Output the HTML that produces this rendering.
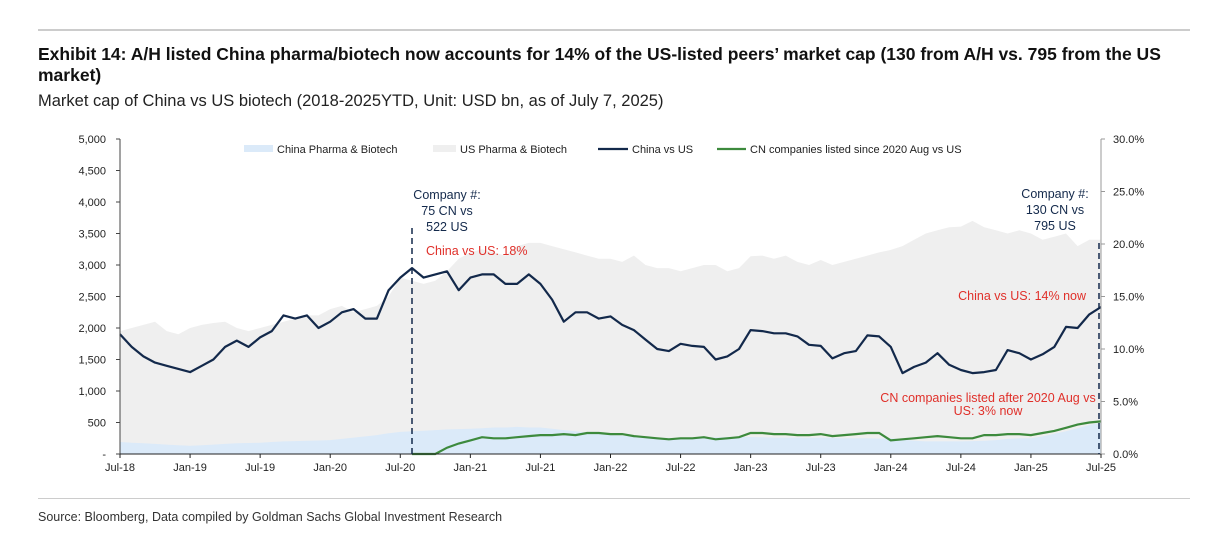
<!DOCTYPE html>
<html><head><meta charset="utf-8"><style>
body{margin:0;width:1214px;height:534px;background:#fff;overflow:hidden;font-family:"Liberation Sans",sans-serif;position:relative}
.n{font-family:"Liberation Sans Narrow","Liberation Sans",sans-serif}
#title{position:absolute;left:38px;top:44px;width:1140px;font-weight:bold;font-size:17.5px;line-height:21px;color:#111}
#sub{position:absolute;left:38px;top:92px;font-size:16.5px;color:#222}
#src{position:absolute;left:38px;top:510px;font-size:12.5px;color:#333}
.hr{position:absolute;left:38px;width:1152px;height:2px;background:#ccc}
svg{position:absolute;left:0;top:0}
</style></head><body>
<div class="hr" style="top:29px"></div>
<div id="title" class="n">Exhibit 14: A/H listed China pharma/biotech now accounts for 14% of the US-listed peers’ market cap (130 from A/H vs. 795 from the US market)</div>
<div id="sub" class="n">Market cap of China vs US biotech (2018-2025YTD, Unit: USD bn, as of July 7, 2025)</div>
<div class="hr" style="top:498px;height:1px"></div>
<div id="src" class="n">Source: Bloomberg, Data compiled by Goldman Sachs Global Investment Research</div>
<svg id="chart" width="1214" height="534"></svg>
<script>
// monthly data Jul-18 .. Jul-25
const xLabels=["Jul-18","Jan-19","Jul-19","Jan-20","Jul-20","Jan-21","Jul-21","Jan-22","Jul-22","Jan-23","Jul-23","Jan-24","Jul-24","Jan-25","Jul-25"];
const leftTicks=[0,500,1000,1500,2000,2500,3000,3500,4000,4500,5000];
const rightTicks=[0,5,10,15,20,25,30];
const usCap=[1950,2000,2050,2100,1950,1900,2000,2050,2080,2100,2000,1950,2000,2050,2100,2150,2200,2200,2300,2350,2250,2300,2350,2500,2800,2750,2700,2750,2900,3100,3200,3250,3200,3150,3300,3350,3350,3300,3250,3200,3150,3100,3100,3050,3150,3000,2950,2950,2900,2950,3000,3000,2900,2950,3140,3150,3100,3150,3050,3000,3080,3000,3050,3100,3150,3200,3240,3300,3400,3500,3550,3600,3610,3700,3600,3550,3500,3550,3500,3400,3450,3500,3300,3400,3400];
const cnCap=[190,180,170,160,150,140,130,140,150,160,170,175,180,190,200,205,210,215,220,240,260,280,300,330,350,360,370,380,390,395,400,410,420,420,430,420,420,400,380,360,340,320,300,290,280,270,260,255,250,255,260,265,270,270,270,265,260,260,260,255,260,255,250,250,250,245,250,230,210,200,200,200,200,205,210,220,240,250,250,280,320,360,410,460,500];
const chinaVsUs=[11.4,10.2,9.3,8.7,8.4,8.1,7.8,8.4,9.0,10.2,10.8,10.2,11.1,11.7,13.2,12.9,13.2,12.0,12.6,13.5,13.8,12.9,12.9,15.6,16.8,17.7,16.8,17.1,17.4,15.6,16.8,17.1,17.1,16.2,16.2,17.1,16.2,14.7,12.6,13.5,13.5,12.9,13.1,12.3,11.8,10.9,10.0,9.8,10.5,10.3,10.2,9.0,9.3,10.0,11.8,11.7,11.5,11.5,11.2,10.4,10.3,9.1,9.6,9.8,11.3,11.2,10.2,7.7,8.3,8.7,9.6,8.5,8.0,7.7,7.8,8.0,9.9,9.6,9.0,9.5,10.2,12.1,12.0,13.3,14.0];
const cnNew=[null,null,null,null,null,null,null,null,null,null,null,null,null,null,null,null,null,null,null,null,null,null,null,null,null,0,0,0,0.6,1.0,1.3,1.6,1.5,1.5,1.6,1.7,1.8,1.8,1.9,1.8,2.0,2.0,1.9,1.9,1.7,1.6,1.5,1.4,1.5,1.5,1.6,1.4,1.5,1.6,2.0,2.0,1.9,1.9,1.8,1.8,1.9,1.7,1.8,1.9,2.0,2.0,1.3,1.4,1.5,1.6,1.7,1.6,1.5,1.5,1.8,1.8,1.9,1.9,1.8,2.0,2.2,2.5,2.8,3.0,3.1];

const svg=document.getElementById('chart');const NS="http://www.w3.org/2000/svg";
const X0=120,X1=1101,Y0=454,Y1=139;
const xm=i=>X0+(X1-X0)*i/(usCap.length-1);
const yl=v=>Y0-(Y0-Y1)*v/5000;
const yr=v=>Y0-(Y0-Y1)*v/30;
function el(t,a,txt){const e=document.createElementNS(NS,t);for(const k in a)e.setAttribute(k,a[k]);if(txt!=null)e.textContent=txt;svg.appendChild(e);return e;}
function area(arr){let d=`M${xm(0)},${Y0}`;arr.forEach((v,i)=>d+=`L${xm(i).toFixed(1)},${yl(v).toFixed(1)}`);return d+`L${xm(arr.length-1)},${Y0}Z`;}
function line(arr,f){let d='',s=false;arr.forEach((v,i)=>{if(v==null)return;d+=(s?'L':'M')+xm(i).toFixed(1)+','+f(v).toFixed(1);s=true;});return d;}
let e=el('path',{d:area(usCap),fill:'#efefef'});

e=el('path',{d:area(cnCap),fill:'#dbeaf9'});

e=el('path',{d:line(cnNew,yr),fill:'none',stroke:'#3d8a3d','stroke-width':2.2});

e=el('path',{d:line(chinaVsUs,yr),fill:'none',stroke:'#13294b','stroke-width':2.2,'stroke-linejoin':'round'});

// axes
el('line',{x1:X0,y1:Y1,x2:X0,y2:Y0,stroke:'#444'});
el('line',{x1:X0,y1:Y0,x2:X1,y2:Y0,stroke:'#222'});
el('line',{x1:X1,y1:Y1,x2:X1,y2:Y0,stroke:'#999'});
leftTicks.forEach(v=>{el('line',{x1:X0-4,y1:yl(v),x2:X0,y2:yl(v),stroke:'#444'});
 const t=el('text',{x:106,y:yl(v)+4,'text-anchor':'end','font-size':11,fill:'#222'},v===0?'-':v.toLocaleString('en-US'));
 });
rightTicks.forEach(v=>{el('line',{x1:X1,y1:yr(v),x2:X1+4,y2:yr(v),stroke:'#999'});
 const t=el('text',{x:1113,y:yr(v)+4,'font-size':11,fill:'#222'},v.toFixed(1)+'%');
 });
xLabels.forEach((l,k)=>{const x=xm(k*6);el('line',{x1:x,y1:Y0,x2:x,y2:Y0+4,stroke:'#222'});
 const t=el('text',{x:x,y:471,'text-anchor':'middle','font-size':11,fill:'#222'},l);
 });
// dashed markers
el('line',{x1:412,y1:228,x2:412,y2:Y0,stroke:'#13294b','stroke-width':1.5,'stroke-dasharray':'6,4'});
el('line',{x1:1099,y1:243,x2:1099,y2:Y0,stroke:'#13294b','stroke-width':1.5,'stroke-dasharray':'6,4'});
function txt(x,y,s,c,anc,name){const t=el('text',{x:x,y:y,'text-anchor':anc||'middle','font-size':12.5,fill:c},s);}
txt(447,199,'Company #:','#13294b','middle','annotation-company-2020');
txt(447,215,'75 CN vs','#13294b','middle','annotation-company-2020');
txt(447,231,'522 US','#13294b','middle','annotation-company-2020');
txt(426,255,'China vs US: 18%','#e0302a','start','annotation-18pct');
txt(1055,198,'Company #:','#13294b','middle','annotation-company-2025');
txt(1055,214,'130 CN vs','#13294b','middle','annotation-company-2025');
txt(1055,230,'795 US','#13294b','middle','annotation-company-2025');
txt(1086,300,'China vs US: 14% now','#e0302a','end','annotation-14pct');
txt(988,402,'CN companies listed after 2020 Aug vs','#e0302a','middle','annotation-3pct');
txt(988,415,'US: 3% now','#e0302a','middle','annotation-3pct');
// legend
function leg(x,w,kind,c,label,name){
 if(kind==='box')el('rect',{x:x,y:145,width:w,height:7,fill:c});else el('line',{x1:x,y1:149,x2:x+w,y2:149,stroke:c,'stroke-width':2.2});
 const t=el('text',{x:x+w+4,y:153,'font-size':11,fill:'#222'},label);}
leg(244,29,'box','#dbeaf9','China Pharma & Biotech','legend-china-pharma');
leg(433,23,'box','#efefef','US Pharma & Biotech','legend-us-pharma');
leg(598,30,'line','#13294b','China vs US','legend-china-vs-us');
leg(717,29,'line','#3d8a3d','CN companies listed since 2020 Aug vs US','legend-cn-new-listed');
</script>
</body></html>
